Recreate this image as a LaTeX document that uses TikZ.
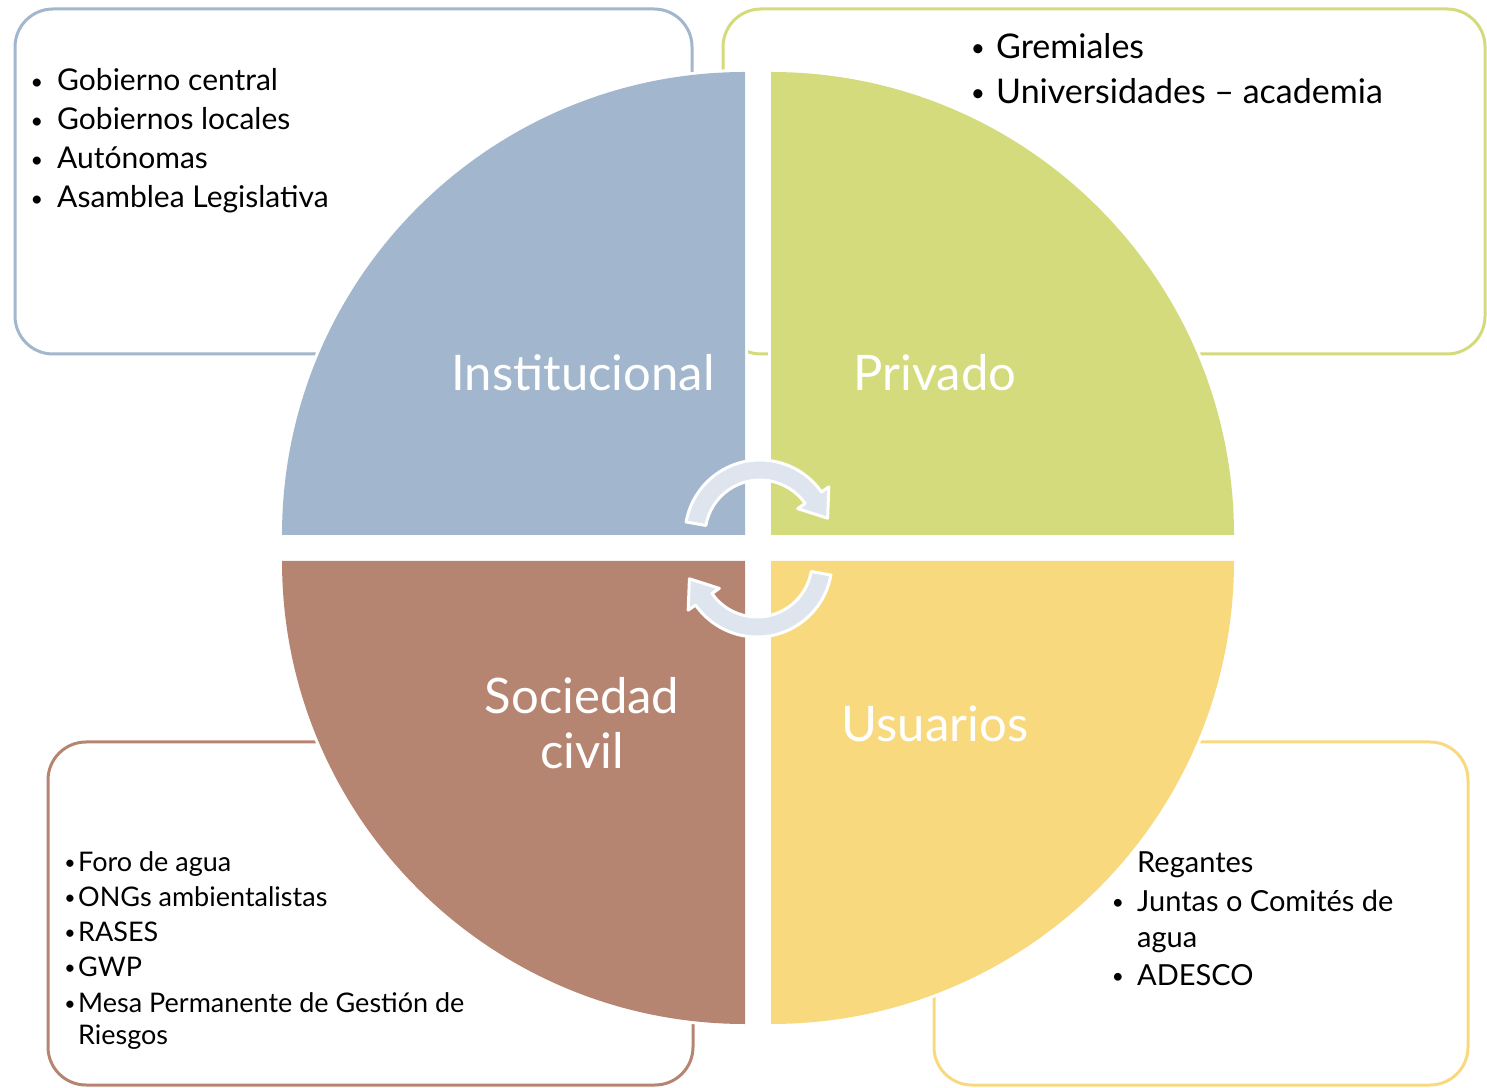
\documentclass[tikz,border=0pt]{standalone}
\usepackage{fontspec}
\setmainfont{Lato}
\usetikzlibrary{calc}
\definecolor{qblue}{HTML}{A2B7CD}
\definecolor{qgreen}{HTML}{D4DB7C}
\definecolor{qbrown}{HTML}{B68571}
\definecolor{qyellow}{HTML}{F9D97E}
\definecolor{arrowfill}{HTML}{DEE5EE}
\newcommand{\bul}{\raisebox{0.12ex}{\scalebox{0.72}{•}}}
\begin{document}
\begin{tikzpicture}[x=1pt,y=1pt,
  box/.style={rounded corners=38pt, line width=3pt},
  halo/.style={draw=white, line width=6pt},
  circarrow/.style={fill=arrowfill, draw=white, line width=3pt, line join=round},
  biglabel/.style={text=white, anchor=base, inner sep=0pt, font=\fontsize{49}{55}\selectfont},
  item/.style={anchor=base west, inner sep=0pt},
  dot/.style={anchor=base, inner sep=0pt},
  tlf/.style={font=\fontsize{30}{36}\selectfont},
  trf/.style={font=\fontsize{34}{40}\selectfont},
  blf/.style={font=\fontsize{27}{32}\selectfont},
  brf/.style={font=\fontsize{29}{34}\selectfont}
]
\useasboundingbox (0,0) rectangle (1487,1087);
% boxes
\draw[box, draw=qblue] (15,733) rectangle (692,1078);
\draw[box, draw=qgreen] (723,733) rectangle (1485,1078);
\draw[box, draw=qbrown] (48,2) rectangle (693,345);
\draw[box, draw=qyellow] (934,2) rectangle (1468,345);
% quadrants: white halo, then fill
\path[halo] (745,552) -- (282,552) arc[start angle=180, end angle=90, radius=463] -- cycle;
\path[halo] (771,552) -- (771,1015) arc[start angle=90, end angle=0, radius=463] -- cycle;
\path[halo] (745,526) -- (282,526) arc[start angle=180, end angle=270, radius=463] -- cycle;
\path[halo] (771,526) -- (771,63) arc[start angle=270, end angle=360, radius=463] -- cycle;
\fill[qblue] (745,552) -- (282,552) arc[start angle=180, end angle=90, radius=463] -- cycle;
\fill[qgreen] (771,552) -- (771,1015) arc[start angle=90, end angle=0, radius=463] -- cycle;
\fill[qbrown] (745,526) -- (282,526) arc[start angle=180, end angle=270, radius=463] -- cycle;
\fill[qyellow] (771,526) -- (771,63) arc[start angle=270, end angle=360, radius=463] -- cycle;
% circular arrows
\coordinate (c1) at (760,552);
\coordinate (c2) at (757,525);
\filldraw[circarrow] ($(c1)+(170:75)$) arc[start angle=170, end angle=35, radius=75]
  -- ($(c1)+(35:84)$) -- ($(c1)+(35:65)+(-55:25)$) -- ($(c1)+(35:46)$) -- ($(c1)+(35:55)$)
  arc[start angle=35, end angle=170, radius=55] -- cycle;
\filldraw[circarrow] ($(c2)+(-10:75)$) arc[start angle=-10, end angle=-145, radius=75]
  -- ($(c2)+(-145:84)$) -- ($(c2)+(-145:65)+(125:25)$) -- ($(c2)+(-145:46)$) -- ($(c2)+(-145:55)$)
  arc[start angle=-145, end angle=-10, radius=55] -- cycle;
% big labels
\node[biglabel] (inst) at (583,696) {Institucional};
\node[biglabel] (priv) at (935,696) {Privado};
\node[biglabel] (soc1) at (582,373) {Sociedad};
\node[biglabel] (soc2) at (582,318) {civil};
\node[biglabel] (usu) at (935,345) {Usuarios};
% top-left list
\node[dot,tlf] (tlb1) at (37,996) {\bul};
\node[item,tlf] (tl1) at (57,996) {Gobierno central};
\node[dot,tlf] (tlb2) at (37,957) {\bul};
\node[item,tlf] (tl2) at (57,957) {Gobiernos locales};
\node[dot,tlf] (tlb3) at (37,918) {\bul};
\node[item,tlf] (tl3) at (57,918) {Autónomas};
\node[dot,tlf] (tlb4) at (37,879) {\bul};
\node[item,tlf] (tl4) at (57,879) {Asamblea Legislativa};
% top-right list
\node[dot,trf] (trb1) at (978,1028) {\bul};
\node[item,trf] (tr1) at (996,1028) {Gremiales};
\node[dot,trf] (trb2) at (978,983) {\bul};
\node[item,trf] (tr2) at (996,983) {Universidades – academia};
% bottom-left list
\node[dot,blf] (blb1) at (70,216) {\bul};
\node[item,blf] (bl1) at (78,216) {Foro de agua};
\node[dot,blf] (blb2) at (70,181) {\bul};
\node[item,blf] (bl2) at (78,181) {ONGs ambientalistas};
\node[dot,blf] (blb3) at (70,146) {\bul};
\node[item,blf] (bl3) at (78,146) {RASES};
\node[dot,blf] (blb4) at (70,111) {\bul};
\node[item,blf] (bl4) at (78,111) {GWP};
\node[dot,blf] (blb5) at (70,75) {\bul};
\node[item,blf] (bl5) at (78,75) {Mesa Permanente de Gestión de};
\node[item,blf] (bl6) at (78,43) {Riesgos};
% bottom-right list
\node[item,brf] (br1) at (1137,215) {Regantes};
\node[dot,brf] (brb2) at (1118,176) {\bul};
\node[item,brf] (br2) at (1137,176) {Juntas o Comités de};
\node[item,brf] (br3) at (1137,140) {agua};
\node[dot,brf] (brb4) at (1118,102) {\bul};
\node[item,brf] (br4) at (1137,102) {ADESCO};
\end{tikzpicture}
\end{document}
